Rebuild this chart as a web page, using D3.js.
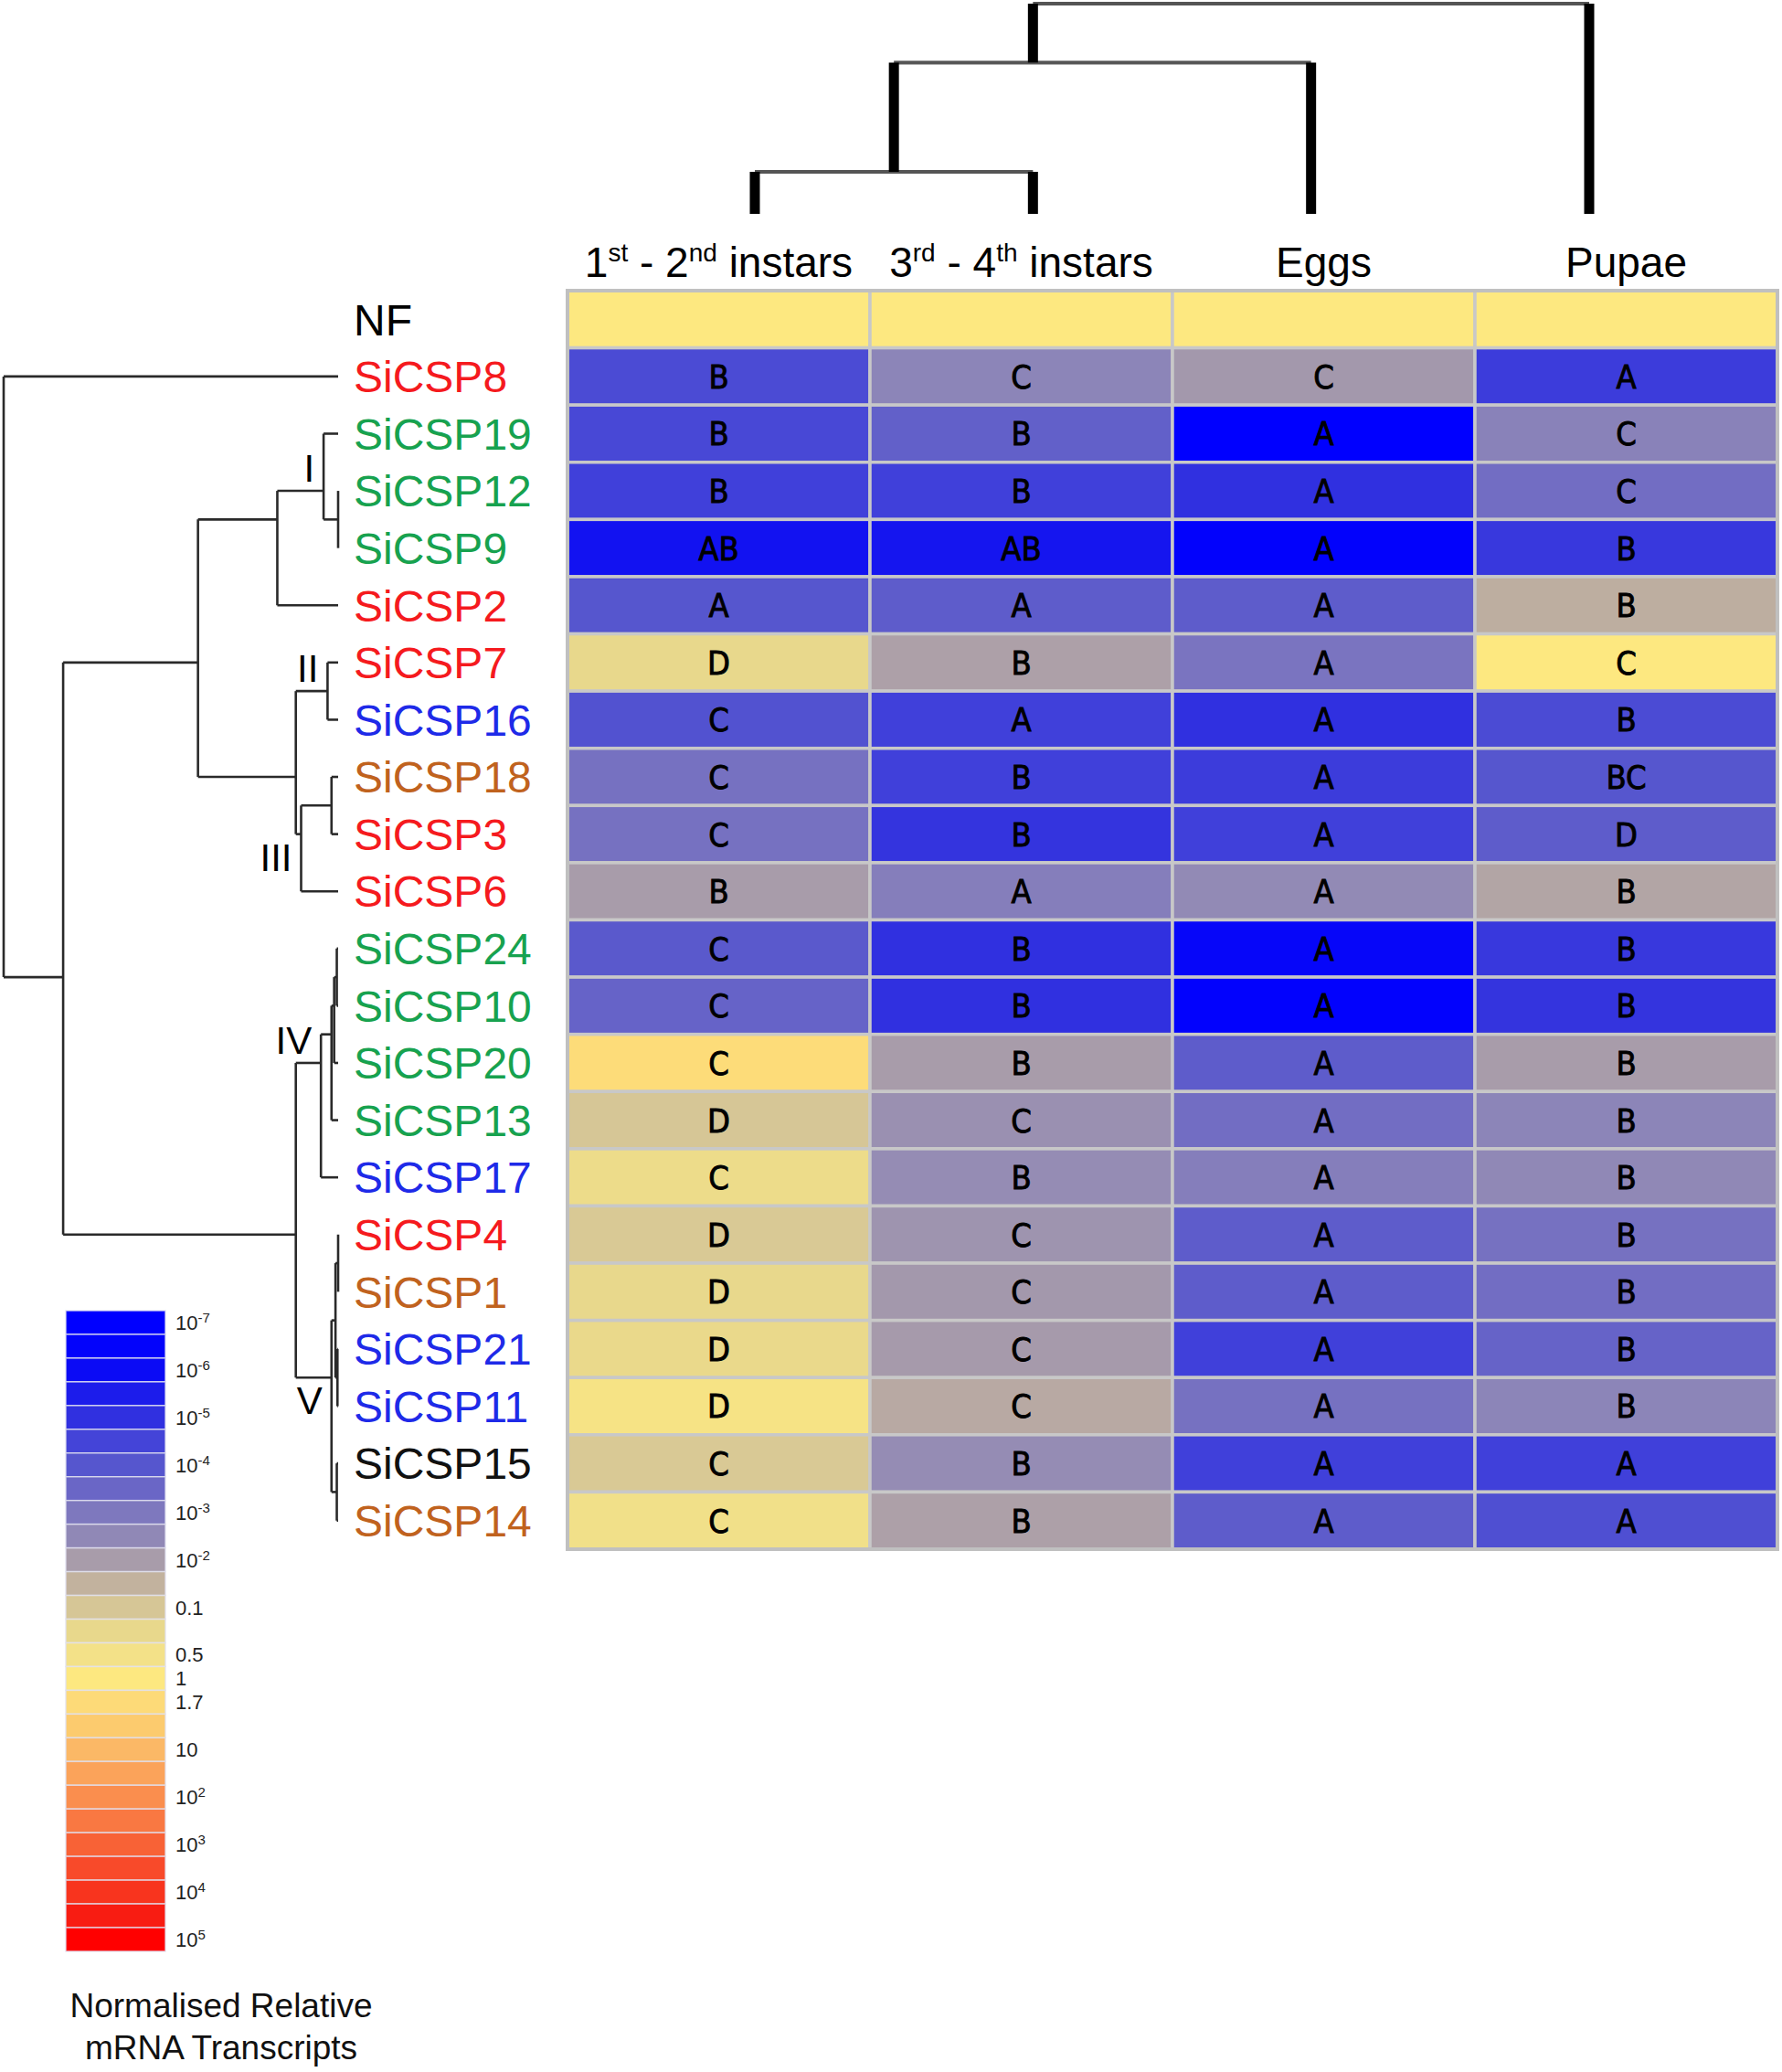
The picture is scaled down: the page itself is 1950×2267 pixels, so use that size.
<!DOCTYPE html>
<html>
<head>
<meta charset="utf-8">
<script src="https://cdn.jsdelivr.net/npm/d3@7"></script>
<style>
  html, body { margin: 0; padding: 0; background: #fff; }
  svg { display: block; }
</style>
</head>
<body>
<svg id="chart"></svg>
<script>
// ---------------- DATA ----------------
const stageKeys = ["L1-2", "L3-4", "Eggs", "Pupae"];
// header label pieces: [text, isSuperscript]
const stageHeaders = [
  [["1", 0], ["st", 1], [" - 2", 0], ["nd", 1], [" instars", 0]],
  [["3", 0], ["rd", 1], [" - 4", 0], ["th", 1], [" instars", 0]],
  [["Eggs", 0]],
  [["Pupae", 0]]
];

const genes = ["SiCSP8","SiCSP19","SiCSP12","SiCSP9","SiCSP2","SiCSP7","SiCSP16","SiCSP18","SiCSP3","SiCSP6",
               "SiCSP24","SiCSP10","SiCSP20","SiCSP13","SiCSP17","SiCSP4","SiCSP1","SiCSP21","SiCSP11","SiCSP15","SiCSP14"];
const geneGroup = ["R","G","G","G","R","R","B","O","R","R",
                   "G","G","G","G","B","R","O","B","B","K","O"];

// log10 normalised relative mRNA transcripts (estimated from colours)
const nfValues   = [0, 0, 0, 0];
const exprL12    = [-4.3,-4.4,-4.6,-5.8,-4.0,-0.65,-4.1,-3.2,-3.2,-2.0,-3.9,-3.6, 0.2,-1.0,-0.5,-0.95,-0.65,-0.6,-0.2,-0.95,-0.35];
const exprL34    = [-2.6,-3.7,-4.6,-5.7,-3.8,-1.9,-4.6,-4.6,-4.9,-2.8,-5.0,-5.0,-2.0,-2.3,-2.4,-2.2,-2.1,-2.05,-1.7,-2.4,-1.9];
const exprEggs   = [-2.1,-7.0,-5.0,-6.6,-3.8,-3.1,-5.0,-4.7,-4.6,-2.45,-6.3,-6.7,-3.8,-3.3,-2.8,-3.8,-3.8,-4.6,-3.2,-4.6,-3.8];
const exprPupae  = [-4.7,-2.7,-3.3,-4.8,-1.6, 0.0,-4.3,-4.0,-3.8,-1.8,-4.8,-4.9,-2.0,-2.6,-2.5,-3.2,-3.3,-3.6,-2.6,-4.6,-4.2];

const sigL12   = ["B","B","B","AB","A","D","C","C","C","B","C","C","C","D","C","D","D","D","D","C","C"];
const sigL34   = ["C","B","B","AB","A","B","A","B","B","A","B","B","B","C","B","C","C","C","C","B","B"];
const sigEggs  = ["C","A","A","A","A","A","A","A","A","A","A","A","A","A","A","A","A","A","A","A","A"];
const sigPupae = ["A","C","C","B","B","C","B","BC","D","B","B","B","B","B","B","B","B","B","B","A","A"];

// gene tree (Newick, branch lengths)
const geneTree = "(SiCSP8:253,((((SiCSP19:11,(SiCSP12:0,SiCSP9:0):11)I:35,SiCSP2:46):60,((SiCSP7:8,SiCSP16:8)II:24,((SiCSP18:5,SiCSP3:5):23,SiCSP6:28)III:4):74):102,(((((SiCSP24:1,SiCSP10:1):2,SiCSP20:3):2,SiCSP13:5):8,SiCSP17:13)IV:19,(((SiCSP4:0,SiCSP1:0):2,(SiCSP21:0.5,SiCSP11:0.5):1.5):3,(SiCSP15:1,SiCSP14:1):4)V:27):176):45);";
const cladeLabels = ["I", "II", "III", "IV", "V"];
const cladeSide   = ["above", "above", "below", "above", "below"];

// stage tree (Newick, distances)
const stageTree = "(((L1-2:0.2,L3-4:0.2):0.52,Eggs:0.72):0.28,Pupae:1.0);";

// legend
const legendLogs = [-7,-6.5,-6,-5.5,-5,-4.5,-4,-3.5,-3,-2.5,-2,-1.5,-1,-0.65,-0.3,0,0.23,0.6,1,1.5,2,2.5,3,3.5,4,4.5,5];
const legendColors = ["#0000FF","#0303FB","#0B0BF5","#1C1CEB","#3030E0","#4444D8","#5656CE","#6A66C6","#7E78BE","#9088B6",
                      "#A89CAA","#C2B29E","#D6C696","#E8D88C","#F3E188","#FDE880","#FDDA78","#FCCB6E","#FBB866","#FBA35A",
                      "#FA8E4E","#F97842","#F86236","#F84A2A","#F8341E","#F81C12","#FF0000"];
const legendLabels = ["10^-7","","10^-6","","10^-5","","10^-4","","10^-3","","10^-2","","0.1","","0.5","1","1.7","","10","","10^2","","10^3","","10^4","","10^5"];
const legendTitle = ["Normalised Relative", "mRNA Transcripts"];

// ---------------- HELPERS ----------------
function parseNewick(str) {
  let i = 0;
  function node() {
    const n = {};
    if (str[i] === "(") {
      n.children = [];
      i++;
      n.children.push(node());
      while (str[i] === ",") { i++; n.children.push(node()); }
      i++;
    }
    let name = "";
    while (i < str.length && !":,();".includes(str[i])) name += str[i++];
    n.name = name;
    n.length = 0;
    if (str[i] === ":") {
      i++;
      let num = "";
      while (i < str.length && !",();".includes(str[i])) num += str[i++];
      n.length = +num;
    }
    return n;
  }
  return node();
}

// ---------------- CHART ----------------
const W = 1950, H = 2267;
const FONT = "'Liberation Sans', Arial, Helvetica, sans-serif";
const svg = d3.select("#chart").attr("width", W).attr("height", H);
svg.append("rect").attr("width", W).attr("height", H).attr("fill", "#fff");

const color = d3.scaleLinear().domain(legendLogs).range(legendColors)
  .interpolate(d3.interpolateRgb).clamp(true);
const groupColor = d3.scaleOrdinal().domain(["R","G","B","O","K"])
  .range(["#F51A1E", "#17A24F", "#1E2AE8", "#C0621E", "#111111"]);

const rowKeys = ["NF", ...genes];
const yRow = d3.scaleBand().domain(rowKeys).range([318, 1695]);
const xCol = d3.scaleBand().domain(stageKeys).range([621, 1945]);
const rowC = k => yRow(k) + yRow.bandwidth() / 2;

const exprs = [exprL12, exprL34, exprEggs, exprPupae];
const sigs = [sigL12, sigL34, sigEggs, sigPupae];

const cells = [];
rowKeys.forEach((r, ri) => {
  stageKeys.forEach((s, ci) => {
    cells.push({
      row: r, col: s,
      value: r === "NF" ? nfValues[ci] : exprs[ci][ri - 1],
      sig: r === "NF" ? "" : sigs[ci][ri - 1]
    });
  });
});

const gHeat = svg.append("g");
gHeat.selectAll("rect.cell").data(cells).join("rect")
  .attr("class", "cell")
  .attr("x", d => xCol(d.col))
  .attr("y", d => yRow(d.row))
  .attr("width", xCol.bandwidth())
  .attr("height", yRow.bandwidth())
  .attr("fill", d => color(d.value))
  .attr("stroke", "#C8C8C8")
  .attr("stroke-width", 3.5);
gHeat.append("rect")
  .attr("x", xCol.range()[0]).attr("y", yRow.range()[0])
  .attr("width", xCol.range()[1] - xCol.range()[0])
  .attr("height", yRow.range()[1] - yRow.range()[0])
  .attr("fill", "none").attr("stroke", "#C0C0C0").attr("stroke-width", 4);
gHeat.selectAll("text.sig").data(cells.filter(d => d.sig)).join("text")
  .attr("class", "sig")
  .attr("x", d => xCol(d.col) + xCol.bandwidth() / 2)
  .attr("y", d => rowC(d.row))
  .attr("dy", "0.36em")
  .attr("text-anchor", "middle")
  .attr("font-family", "'DejaVu Sans Condensed', 'DejaVu Sans', sans-serif")
  .attr("font-stretch", "condensed")
  .attr("font-size", 36)
  .attr("fill", "#000")
  .attr("stroke", "#000")
  .attr("stroke-width", 0.9)
  .text(d => d.sig);

// column headers
const gHead = svg.append("g");
stageKeys.forEach((s, i) => {
  const t = gHead.append("text")
    .attr("x", xCol(s) + xCol.bandwidth() / 2)
    .attr("y", 303)
    .attr("text-anchor", "middle")
    .attr("font-family", FONT)
    .attr("font-size", 46)
    .attr("fill", "#000");
  let up = false;
  stageHeaders[i].forEach(([txt, sup]) => {
    const ts = t.append("tspan").text(txt);
    if (sup && !up) { ts.attr("dy", -17).attr("font-size", 28); up = true; }
    else if (sup) { ts.attr("font-size", 28); }
    else if (!sup && up) { ts.attr("dy", 17); up = false; }
  });
});

// row labels
svg.append("g").selectAll("text").data(rowKeys).join("text")
  .attr("x", 387)
  .attr("y", d => rowC(d))
  .attr("dy", "0.36em")
  .attr("font-family", FONT)
  .attr("font-size", 48)
  .attr("fill", (d, i) => i === 0 ? "#000" : groupColor(geneGroup[i - 1]))
  .text(d => d);

// gene tree
const gRoot = d3.hierarchy(parseNewick(geneTree));
gRoot.eachBefore(d => { d.dist = d.parent ? d.parent.dist + d.data.length : 0; });
const xTree = d3.scaleLinear().domain([0, 253]).range([4, 370]);
gRoot.eachAfter(d => {
  d.px = xTree(d.dist);
  d.py = d.children ? d3.mean(d.leaves(), l => rowC(l.data.name)) : rowC(d.data.name);
});
const gTree = svg.append("g").attr("stroke", "#2a2a2a").attr("stroke-width", 2.6).attr("fill", "none");
gRoot.descendants().forEach(d => {
  if (d.parent) {
    gTree.append("line").attr("x1", d.parent.px).attr("x2", d.px).attr("y1", d.py).attr("y2", d.py);
  }
  if (d.children) {
    const ys = d.children.map(c => c.py);
    gTree.append("line").attr("x1", d.px).attr("x2", d.px)
      .attr("y1", d3.min(ys)).attr("y2", d3.max(ys));
  }
});
// clade labels
cladeLabels.forEach((lab, i) => {
  const node = gRoot.descendants().find(d => d.data.name === lab);
  svg.append("text")
    .attr("x", node.px - 10)
    .attr("y", cladeSide[i] === "above" ? node.py - 10 : node.py + 40)
    .attr("text-anchor", "end")
    .attr("font-family", FONT)
    .attr("font-size", 42)
    .attr("fill", "#000")
    .text(lab);
});

// stage tree (top)
const sRoot = d3.hierarchy(parseNewick(stageTree));
sRoot.eachBefore(d => { d.dist = d.parent ? d.parent.dist + d.data.length : 0; });
const xLeaf = d3.scalePoint().domain(stageKeys).range([826, 1739]);
const yTop = d3.scaleLinear().domain([0, 1]).range([4, 234]);
sRoot.eachAfter(d => {
  d.px = d.children ? d3.mean(d.leaves(), l => xLeaf(l.data.name)) : xLeaf(d.data.name);
  d.py = yTop(d.dist);
});
const gTop = svg.append("g");
sRoot.descendants().forEach(d => {
  if (d.children) {
    const xs = d.children.map(c => c.px);
    gTop.append("line").attr("x1", d3.min(xs)).attr("x2", d3.max(xs))
      .attr("y1", d.py).attr("y2", d.py)
      .attr("stroke", "#555").attr("stroke-width", 4);
  }
});
sRoot.descendants().forEach(d => {
  if (d.parent) {
    gTop.append("line").attr("x1", d.px).attr("x2", d.px)
      .attr("y1", d.parent.py).attr("y2", d.py)
      .attr("stroke", "#000").attr("stroke-width", 11);
  }
});

// legend
const yLeg = d3.scaleBand().domain(d3.range(legendLogs.length)).range([1434, 2135]);
const gLeg = svg.append("g");
gLeg.selectAll("rect").data(legendLogs).join("rect")
  .attr("x", 72).attr("width", 109)
  .attr("y", (d, i) => yLeg(i))
  .attr("height", yLeg.bandwidth())
  .attr("fill", d => color(d))
  .attr("stroke", "rgba(225,225,240,0.8)")
  .attr("stroke-width", 1.5);
legendLabels.forEach((lab, i) => {
  if (!lab) return;
  const t = gLeg.append("text")
    .attr("x", 192)
    .attr("y", yLeg(i) + yLeg.bandwidth() / 2 + 8)
    .attr("font-family", FONT)
    .attr("font-size", 22)
    .attr("fill", "#222");
  const parts = lab.split("^");
  t.append("tspan").text(parts[0]);
  if (parts[1]) t.append("tspan").attr("dy", -8).attr("font-size", 15).text(parts[1]);
});
legendTitle.forEach((line, i) => {
  svg.append("text")
    .attr("x", 242)
    .attr("y", 2207 + i * 46)
    .attr("text-anchor", "middle")
    .attr("font-family", FONT)
    .attr("font-size", 37)
    .attr("fill", "#111")
    .text(line);
});
</script>
</body>
</html>
